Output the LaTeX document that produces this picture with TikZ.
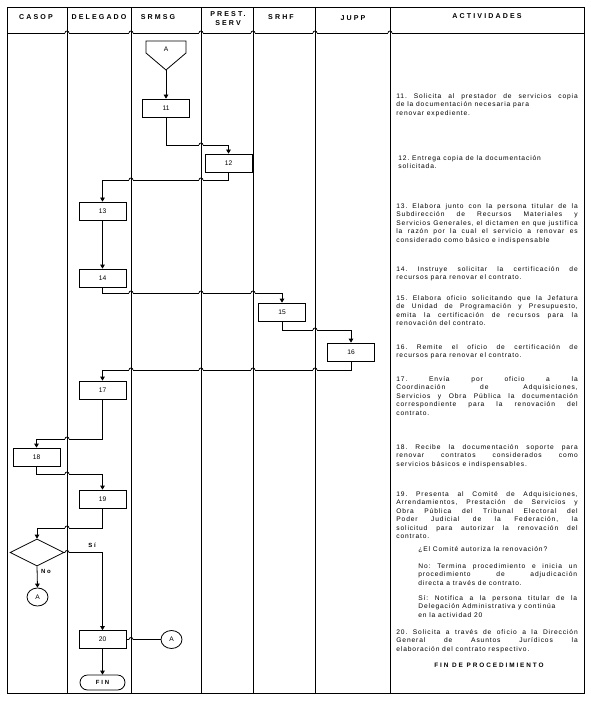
\documentclass[tikz,border=0pt]{standalone}
\usepackage{fontspec}
\setmainfont{Liberation Sans}
\newfontfamily\headfont[LetterSpace=30]{Liberation Sans}
\newfontfamily\actfont[LetterSpace=13]{Liberation Sans}
\usetikzlibrary{arrows.meta}
\usetikzlibrary{shapes.geometric}
\usetikzlibrary{shapes.misc}

\tikzset{
  proc/.style={draw, minimum width=35.25pt, minimum height=13.5pt, inner sep=0pt, font=\fontsize{5}{6}\selectfont},
  decide/.style={draw, diamond, minimum width=40.5pt, minimum height=20.25pt, inner sep=0pt},
  conn/.style={draw, ellipse, minimum width=15.75pt, minimum height=13.5pt, inner sep=0pt, font=\fontsize{5}{6}\selectfont},
  term/.style={draw, rounded rectangle, minimum width=33.75pt, minimum height=11.25pt, inner sep=0pt, font=\headfont\fontsize{4.5}{5}\selectfont\bfseries},
  flow/.style={-{Triangle[length=3pt,width=3.5pt]}},
  lane/.style={line width=0.6pt},
  head/.style={font=\headfont\fontsize{5.3}{6.8}\selectfont\bfseries, align=center, inner sep=0pt},
  act/.style={anchor=north west, inner sep=0pt, text width=136pt, align=justify, font=\actfont\fontsize{5}{6.4}\selectfont\frenchspacing},
  opt/.style={act, text width=119pt},
  tag/.style={inner sep=0pt, font=\headfont\fontsize{4.5}{5}\selectfont\bfseries}
}

\begin{document}
\begin{tikzpicture}[x=0.75pt, y=-0.75pt, line width=0.6pt]
\useasboundingbox (0,0) rectangle (591,702);

% column titles
\node[head] (hcasop) at (36,17) {CASOP};
\node[head] (hdeleg) at (99,17) {DELEGADO};
\node[head] (hsrmsg) at (158,17) {SRMSG};
\node[head] (hprest) at (228,19) {PREST.\\SERV};
\node[head] (hsrhf) at (281,17) {SRHF};
\node[head] (hjupp) at (353,18) {JUPP};
\node[head] (hact) at (487,16) {ACTIVIDADES};

% flow
\coordinate (pA) at (166,70);
\draw (146,41) -- (186,41) -- (186,53) -- (pA) -- (146,53) -- cycle;
\node[font=\fontsize{5}{6}\selectfont] (lblA) at (166,49) {A};

\node[proc] (b11) at (166,108) {11};
\node[proc] (b12) at (228.5,163) {12};
\node[proc] (b13) at (102.5,211) {13};
\node[proc] (b14) at (102.5,278) {14};
\node[proc] (b15) at (282,312) {15};
\node[proc] (b16) at (351,352) {16};
\node[proc] (b17) at (102.5,390) {17};
\node[proc] (b18) at (36.5,457) {18};
\node[proc] (b19) at (102.5,499) {19};
\node[decide] (dec) at (37,552.5) {};
\node[conn] (cA) at (37.5,597) {A};
\node[proc] (b20) at (102.5,639.5) {20};
\node[conn] (cA2) at (171.5,639.5) {A};
\node[term] (fin) at (102.5,682.5) {FIN};

\draw[flow] (pA) -- (b11.north);
\draw[flow] (b11.south) -- ++(0,28) -| (b12.north);
\draw[flow] (b12.south) -- ++(0,8) -| (b13.north);
\draw[flow] (b13.south) -- (b14.north);
\draw[flow] (b14.south) -- ++(0,6) -| (b15.north);
\draw[flow] (b15.south) -- ++(0,9) -| (b16.north);
\draw[flow] (b16.south) -- ++(0,9) -| (b17.north);
\draw[flow] (b17.south) -- ++(0,40) -| (b18.north);
\draw[flow] (b18.south) -- ++(0,8) -| (b19.north);
\draw[flow] (b19.south) -- ++(0,20) -| (dec.north);
\draw[flow] (dec.east) -| (b20.north);
\draw[flow] (dec.south) -- (cA.north);
\draw (b20.east) -- (cA2.west);
\draw[flow] (b20.south) -- (fin.north);
\node[tag] (lblsi) at (92,545) {Sí};
\node[tag] (lblno) at (46,571) {No};

% header rule and line hops
\draw (7,33) -- (584,33);
\foreach \hx/\hy in {67/33,131/33,201/33,253/33,315/33,390/33,
    201/145,131/180,201/180,131/293,201/293,253/293,315/330,
    131/370,201/370,253/370,315/370,67/439,67/474,67/528,67/552.5,131/639.5} {
  \fill[white] (\hx-2,\hy-1) rectangle (\hx+2,\hy+1);
  \draw (\hx-2,\hy) arc[start angle=180, end angle=0, radius=1.5pt];
}

% frame and lanes
\draw[lane] (7,7) rectangle (584,693);
\foreach \lx in {67,131,201,253,315,390}
  \draw[lane] (\lx,7) -- (\lx,693);

% activities
\node[act] (t11) at (396,93) {11. Solicita al prestador de servicios copia\linebreak de la documentación necesaria para\newline renovar expediente.};
\node[act] (t12) at (398,155) {12. Entrega copia de la documentación\newline solicitada.};
\node[act] (t13) at (396,203) {13. Elabora junto con la persona titular de la\linebreak Subdirección de Recursos Materiales y\linebreak Servicios Generales, el dictamen en que justifica\linebreak la razón por la cual el servicio a renovar es\linebreak considerado como básico e indispensable};
\node[act] (t14) at (396,266) {14. Instruye solicitar la certificación de\linebreak recursos para renovar el contrato.};
\node[act] (t15) at (396,295) {15. Elabora oficio solicitando que la Jefatura\linebreak de Unidad de Programación y Presupuesto,\linebreak emita la certificación de recursos para la\linebreak renovación del contrato.};
\node[act] (t16) at (396,344) {16. Remite el oficio de certificación de\linebreak recursos para renovar el contrato.};
\node[act] (t17) at (396,376) {17. Envía por oficio a la\linebreak Coordinación de Adquisiciones,\linebreak Servicios y Obra Pública la documentación\linebreak correspondiente para la renovación del\linebreak contrato.};
\node[act] (t18) at (396,444) {18. Recibe la documentación soporte para\linebreak renovar contratos considerados como\linebreak servicios básicos e indispensables.};
\node[act] (t19) at (396,491) {19. Presenta al Comité de Adquisiciones,\linebreak Arrendamientos, Prestación de Servicios y\linebreak Obra Pública del Tribunal Electoral del\linebreak Poder Judicial de la Federación, la\linebreak solicitud para autorizar la renovación del\linebreak contrato.};
\node[opt] (tq) at (418,546) {¿El Comité autoriza la renovación?};
\node[opt] (tno) at (418,563) {\hangindent=5pt\hangafter=1 No: Termina procedimiento e inicia un\linebreak procedimiento de adjudicación\linebreak directa a través de contrato.};
\node[opt] (tsi) at (418,595) {\hangindent=5pt\hangafter=1 Sí: Notifica a la persona titular de la\linebreak Delegación Administrativa y continúa\newline en la actividad 20};
\node[act] (t20) at (396,629) {20. Solicita a través de oficio a la Dirección\linebreak General de Asuntos Jurídicos la\linebreak elaboración del contrato respectivo.};
\node[head, font=\headfont\fontsize{4.8}{6}\selectfont\bfseries] (tfin) at (489,665) {FIN DE PROCEDIMIENTO};
\end{tikzpicture}
\end{document}
